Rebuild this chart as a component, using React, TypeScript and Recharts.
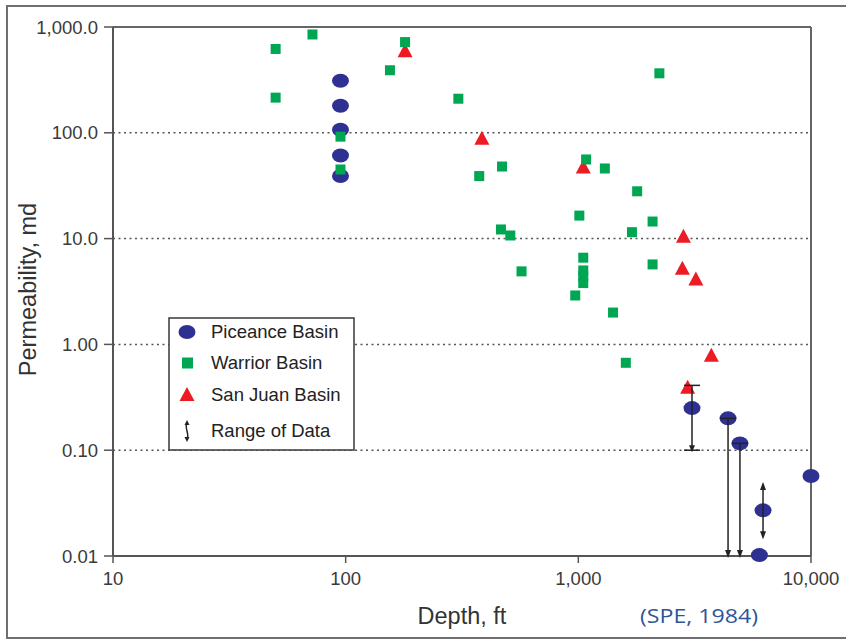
import React from 'react';
import { ScatterChart, Scatter, XAxis, YAxis, ReferenceLine, Legend, Label } from 'recharts';

const depthTicks = [10, 100, 1000, 10000];
const depthTickLabels = ['10', '100', '1,000', '10,000'];
const permTicks = [0.01, 0.1, 1, 10, 100, 1000];
const permTickLabels = ['0.01', '0.10', '1.00', '10.0', '100.0', '1,000.0'];
const gridValues = [0.1, 1, 10, 100];

const piceanceDepth = [95, 95, 95, 95, 95, 3080, 4400, 4950, 6000, 6220, 10000];
const piceancePerm = [310, 180, 107, 61, 39, 0.25, 0.2, 0.116, 0.0102, 0.027, 0.057];

const warriorDepth = [50, 72, 180, 155, 50, 305, 95, 95, 2230, 470, 375, 1080, 1300, 1790, 1010, 2085, 465, 510, 1700, 1050, 1050, 1050, 1050, 570, 2085, 970, 1410, 1600];
const warriorPerm = [620, 850, 720, 390, 215, 210, 92, 45, 365, 48, 39, 56, 46, 28, 16.5, 14.5, 12.2, 10.7, 11.5, 6.6, 5.0, 4.4, 3.8, 4.9, 5.7, 2.9, 2.0, 0.67];

const sanJuanDepth = [180, 385, 1050, 2830, 2800, 3200, 3730, 2950];
const sanJuanPerm = [590, 88, 47, 10.4, 5.2, 4.1, 0.78, 0.39];

const rangeDepth = [3080, 4400, 4950, 6220];
const rangeLow = [0.1, 0.01, 0.01, 0.015];
const rangeHigh = [0.41, 0.2, 0.116, 0.048];
const rangeLowEnd = ['capArrow', 'arrow', 'arrow', 'arrow'];
const rangeHighEnd = ['cap', 'cap', 'cap', 'arrow'];

const seriesNames = ['Piceance Basin', 'Warrior Basin', 'San Juan Basin', 'Range of Data'];

const BLUE = '#2e3192';
const GREEN = '#00a651';
const RED = '#ed1c24';
const AXIS = '#555555';
const TEXT = '#3a3a3a';
const FONT = '"Liberation Sans", Arial, Helvetica, sans-serif';

const zip = (xs: number[], ys: number[]) => xs.map((x, i) => ({ x, y: ys[i] }));
const piceanceData = zip(piceanceDepth, piceancePerm);
const warriorData = zip(warriorDepth, warriorPerm);
const sanJuanData = zip(sanJuanDepth, sanJuanPerm);

const EllipseShape = (p: any) => <ellipse cx={p.cx} cy={p.cy} rx={8.5} ry={7} fill={BLUE} />;
const SquareShape = (p: any) => <rect x={p.cx - 5} y={p.cy - 5} width={10} height={10} fill={GREEN} />;
const TriangleShape = (p: any) => (
  <polygon points={`${p.cx},${p.cy - 8} ${p.cx - 7.5},${p.cy + 6} ${p.cx + 7.5},${p.cy + 6}`} fill={RED} />
);

const makeRangeShape = (lowEnd: string, highEnd: string) => (p: any) => {
  const x = p.x1;
  const yTop = Math.min(p.y1, p.y2);
  const yBot = Math.max(p.y1, p.y2);
  const c = '#222';
  const parts: any[] = [<line key="l" x1={x} y1={yTop} x2={x} y2={yBot} stroke={c} strokeWidth={1.5} />];
  if (highEnd === 'cap') parts.push(<line key="hc" x1={x - 8} y1={yTop} x2={x + 8} y2={yTop} stroke={c} strokeWidth={1.5} />);
  if (highEnd === 'arrow') parts.push(<polygon key="ha" points={`${x},${yTop - 2} ${x - 3},${yTop + 6} ${x + 3},${yTop + 6}`} fill={c} />);
  if (lowEnd === 'capArrow') {
    parts.push(<line key="lc" x1={x - 8} y1={yBot} x2={x + 8} y2={yBot} stroke={c} strokeWidth={1.5} />);
    parts.push(<polygon key="la" points={`${x},${yBot + 2} ${x - 3},${yBot - 5} ${x + 3},${yBot - 5}`} fill={c} />);
  }
  if (lowEnd === 'arrow') parts.push(<polygon key="la" points={`${x},${yBot + 2} ${x - 3},${yBot - 6} ${x + 3},${yBot - 6}`} fill={c} />);
  return <g>{parts}</g>;
};

const renderLegend = () => {
  const rows = [15, 46, 78, 114];
  return (
    <svg width={188} height={135} style={{ display: 'block' }}>
      <rect x={1} y={1} width={185} height={132} fill="#fff" stroke="#444" strokeWidth={1.6} />
      <ellipse cx={19} cy={rows[0]} rx={8.5} ry={7} fill={BLUE} />
      <rect x={14} y={rows[1] - 5.5} width={11} height={11} fill={GREEN} />
      <polygon points={`19,${rows[2] - 8} 11.5,${rows[2] + 6} 26.5,${rows[2] + 6}`} fill={RED} />
      <g>
        <path d={`M19,${rows[3] - 8} C16,${rows[3] - 3} 22,${rows[3] + 3} 19,${rows[3] + 8}`} stroke="#222" strokeWidth={1.5} fill="none" />
        <polygon points={`19,${rows[3] - 11} 16.5,${rows[3] - 6} 21.5,${rows[3] - 6}`} fill="#222" />
        <polygon points={`19,${rows[3] + 11} 16.5,${rows[3] + 6} 21.5,${rows[3] + 6}`} fill="#222" />
      </g>
      {seriesNames.map((n, i) => (
        <text key={n} x={43} y={rows[i]} dy="0.35em" fontFamily={FONT} fontSize={18.5} fill="#222">
          {n}
        </text>
      ))}
    </svg>
  );
};

const renderYTitle = (props: any) => {
  const vb = props.viewBox || { x: 13, y: 27, width: 100, height: 529 };
  const cx = vb.x + 15;
  const cy = vb.y + vb.height / 2 - 2;
  return (
    <text x={cx} y={cy} transform={`rotate(-90, ${cx}, ${cy})`} textAnchor="middle" dominantBaseline="central"
      fontFamily={FONT} fontSize={23.5} fill="#333">
      Permeability, md
    </text>
  );
};

const renderXTitle = (props: any) => {
  const vb = props.viewBox || { x: 113, y: 556, width: 698, height: 30 };
  return (
    <g>
      <text x={vb.x + vb.width / 2} y={vb.y + 68} textAnchor="middle" fontFamily={FONT} fontSize={23.5} fill="#333">
        Depth, ft
      </text>
      <text x={vb.x + 527} y={vb.y + 67} fontFamily='"Open Sans", sans-serif' fontSize={20} fill="#2f5597"
        textLength={118} lengthAdjust="spacingAndGlyphs">
        (SPE, 1984)
      </text>
    </g>
  );
};

export default function App() {
  return (
    <div style={{ position: 'absolute', left: 0, top: 0, width: 846, height: 639, background: '#fff' }}>
      <div style={{ position: 'absolute', left: 6, top: 5, width: 845, height: 630, border: '2px solid #6f6f6f' }} />
      <div style={{ position: 'absolute', left: 0, top: 0 }}>
        <ScatterChart width={846} height={639} margin={{ top: 27, right: 35, bottom: 53, left: 13 }}>
          <XAxis
            type="number"
            dataKey="x"
            scale="log"
            domain={[10, 10000]}
            ticks={depthTicks}
            height={30}
            tickSize={7}
            tickMargin={9}
            tickFormatter={(v: number) => depthTickLabels[depthTicks.indexOf(v)] ?? String(v)}
            tick={{ fill: TEXT, fontSize: 18.5, fontFamily: FONT }}
            axisLine={{ stroke: AXIS, strokeWidth: 2 }}
            tickLine={{ stroke: AXIS, strokeWidth: 1.5 }}
            label={<Label content={renderXTitle} />}
          />
          <YAxis
            type="number"
            dataKey="y"
            scale="log"
            domain={[0.01, 1000]}
            ticks={permTicks}
            width={100}
            tickSize={9}
            tickMargin={6}
            tickFormatter={(v: number) => permTickLabels[permTicks.indexOf(v)] ?? String(v)}
            tick={{ fill: TEXT, fontSize: 18.5, fontFamily: FONT }}
            axisLine={{ stroke: AXIS, strokeWidth: 2 }}
            tickLine={{ stroke: AXIS, strokeWidth: 1.5 }}
            label={<Label content={renderYTitle} />}
          />
          {gridValues.map((v) => (
            <ReferenceLine key={`g${v}`} y={v} stroke="#555" strokeWidth={1.5} strokeDasharray="2 3.5" />
          ))}
          <ReferenceLine y={1000} stroke="#666" strokeWidth={2} />
          <ReferenceLine x={10000} stroke="#666" strokeWidth={2} />
          <Scatter name={seriesNames[0]} data={piceanceData} shape={EllipseShape} isAnimationActive={false} />
          <Scatter name={seriesNames[2]} data={sanJuanData} shape={TriangleShape} isAnimationActive={false} />
          <Scatter name={seriesNames[1]} data={warriorData} shape={SquareShape} isAnimationActive={false} />
          {rangeDepth.map((d, i) => (
            <ReferenceLine
              key={`r${i}`}
              segment={[{ x: d, y: rangeHigh[i] }, { x: d, y: rangeLow[i] }]}
              shape={makeRangeShape(rangeLowEnd[i], rangeHighEnd[i])}
              ifOverflow="visible"
              zIndex={1000}
            />
          ))}
          <Legend
            layout="vertical"
            align="center"
            verticalAlign="middle"
            content={renderLegend}
            wrapperStyle={{ left: 168, top: 317, width: 188, height: 135 }}
          />
        </ScatterChart>
      </div>
    </div>
  );
}
